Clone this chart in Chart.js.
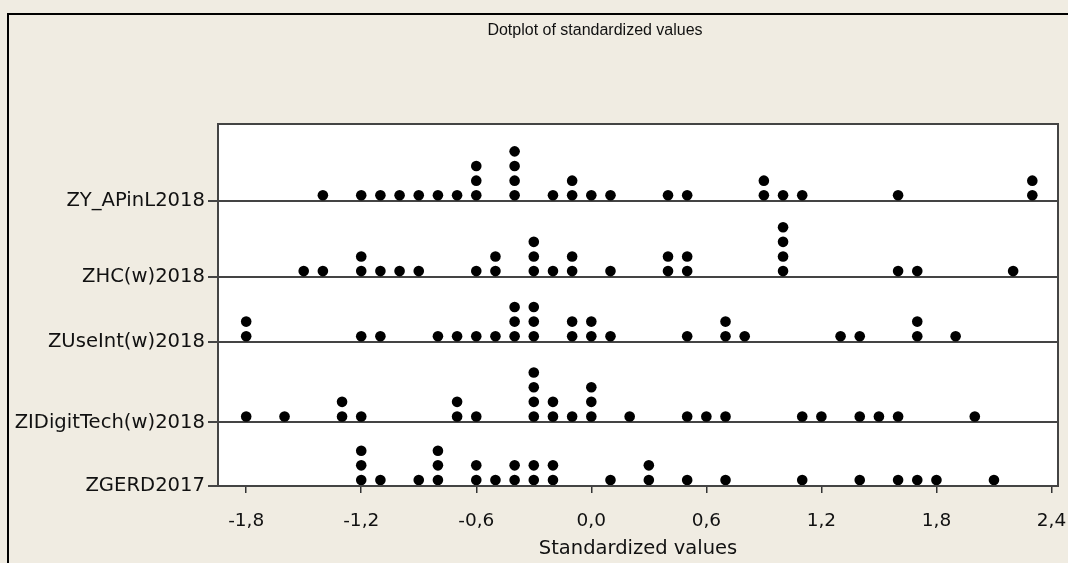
<!DOCTYPE html>
<html>
<head>
<meta charset="utf-8">
<script src="https://cdn.jsdelivr.net/npm/chart.js@4.4.1/dist/chart.umd.min.js"></script>
<style>
  html, body { margin: 0; padding: 0; background: #f0ece2; }
  #wrap { position: relative; width: 1068px; height: 563px; }
</style>
</head>
<body>
<div id="wrap"><canvas id="DotChart"></canvas></div>
<script>
// rows, top to bottom
const rowNames = ["ZY_APinL2018", "ZHC(w)2018", "ZUseInt(w)2018", "ZIDigitTech(w)2018", "ZGERD2017"];

// standardized values per row (one entry per dot)
const zyApinl2018 = [-1.4, -1.2, -1.1, -1.0, -0.9, -0.8, -0.7, -0.6, -0.6, -0.6, -0.4, -0.4, -0.4, -0.4,
    -0.2, -0.1, -0.1, 0.0, 0.1, 0.4, 0.5, 0.9, 0.9, 1.0, 1.1, 1.6, 2.3, 2.3];
const zhc2018 = [-1.5, -1.4, -1.2, -1.2, -1.1, -1.0, -0.9, -0.6, -0.5, -0.5, -0.3, -0.3, -0.3, -0.2,
    -0.1, -0.1, 0.1, 0.4, 0.4, 0.5, 0.5, 1.0, 1.0, 1.0, 1.0, 1.6, 1.7, 2.2];
const zuseInt2018 = [-1.8, -1.8, -1.2, -1.1, -0.8, -0.7, -0.6, -0.5, -0.4, -0.4, -0.4, -0.3, -0.3, -0.3,
    -0.1, -0.1, 0.0, 0.0, 0.1, 0.5, 0.7, 0.7, 0.8, 1.3, 1.4, 1.7, 1.7, 1.9];
const zidigitTech2018 = [-1.8, -1.6, -1.3, -1.3, -1.2, -0.7, -0.7, -0.6, -0.3, -0.3, -0.3, -0.3, -0.2, -0.2,
    -0.1, 0.0, 0.0, 0.0, 0.2, 0.5, 0.6, 0.7, 1.1, 1.2, 1.4, 1.5, 1.6, 2.0];
const zgerd2017 = [-1.2, -1.2, -1.2, -1.1, -0.9, -0.8, -0.8, -0.8, -0.6, -0.6, -0.5, -0.4, -0.4, -0.3,
    -0.3, -0.2, -0.2, 0.1, 0.3, 0.3, 0.5, 0.7, 1.1, 1.4, 1.6, 1.7, 1.8, 2.1];

const xTickValues = [-1.8, -1.2, -0.6, 0.0, 0.6, 1.2, 1.8, 2.4];

// layout (in dot-height units, bottom of plot = 0)
const rowBase = [19.45, 14.27, 9.82, 4.34, 0];
const dotLift = 0.41;
const yMax = 24.73;

function stackDots(values, base) {
    const counts = {};
    return values.map(v => {
        const key = v.toFixed(1);
        const k = counts[key] || 0;
        counts[key] = k + 1;
        return { x: v, y: base + dotLift + k };
    });
}

const series = [zyApinl2018, zhc2018, zuseInt2018, zidigitTech2018, zgerd2017];

const frameAndTitle = {
    id: "frameAndTitle",
    beforeDraw(chart) {
        const { ctx, chartArea: a } = chart;
        ctx.save();
        ctx.fillStyle = "#f0ece2";
        ctx.fillRect(0, 0, chart.width, chart.height);
        ctx.strokeStyle = "#000";
        ctx.lineWidth = 2;
        ctx.beginPath();
        ctx.moveTo(8, chart.height);
        ctx.lineTo(8, 14);
        ctx.lineTo(chart.width, 14);
        ctx.stroke();
        ctx.fillStyle = "#fff";
        ctx.fillRect(a.left, a.top, a.right - a.left, a.bottom - a.top);
        ctx.restore();
    },
    afterDraw(chart) {
        const { ctx, chartArea: a } = chart;
        ctx.save();
        ctx.strokeStyle = "#444";
        ctx.lineWidth = 2;
        ctx.strokeRect(a.left, a.top, a.right - a.left, a.bottom - a.top);
        ctx.fillStyle = "#111";
        ctx.font = "16px 'Liberation Sans'";
        ctx.textAlign = "center";
        ctx.textBaseline = "middle";
        ctx.fillText("Dotplot of standardized values", 595, 31);
        ctx.restore();
    }
};

const ctx = document.getElementById("DotChart").getContext("2d");

new Chart(ctx, {
    type: "scatter",
    data: {
        datasets: series.map((vals, i) => ({
            label: rowNames[i],
            data: stackDots(vals, rowBase[i]),
            backgroundColor: "#000",
            borderColor: "#000",
            borderWidth: 0,
            pointRadius: 5.3,
            pointHoverRadius: 5.3
        }))
    },
    options: {
        responsive: true,
        maintainAspectRatio: false,
        animation: false,
        events: [],
        layout: { padding: { top: 124, right: 10, left: 0, bottom: 0 } },
        plugins: {
            legend: { display: false },
            tooltip: { enabled: false }
        },
        scales: {
            x: {
                type: "linear",
                min: -1.947,
                max: 2.434,
                afterBuildTicks: scale => { scale.ticks = xTickValues.map(v => ({ value: v })); },
                afterFit: scale => {
                    scale.height = 77;
                    scale.paddingRight = 0;
                },
                ticks: {
                    color: "#111",
                    font: { family: "DejaVu Sans", size: 18.5 },
                    padding: 17,
                    maxRotation: 0,
                    callback: value => value.toFixed(1).replace(".", ",")
                },
                grid: {
                    drawOnChartArea: false,
                    drawTicks: true,
                    tickLength: 7,
                    color: "#333",
                    lineWidth: 1.5
                },
                border: { display: true, color: "#444", width: 2 },
                title: {
                    display: true,
                    text: "Standardized values",
                    color: "#111",
                    font: { family: "DejaVu Sans", size: 19.5 },
                    padding: { top: 0, bottom: 2 }
                }
            },
            y: {
                type: "linear",
                min: 0,
                max: yMax,
                afterBuildTicks: scale => { scale.ticks = rowBase.map(v => ({ value: v })); },
                afterFit: scale => { scale.width = 218; },
                ticks: {
                    color: "#111",
                    font: { family: "DejaVu Sans", size: 19.6 },
                    padding: 3,
                    callback: (value, index) => rowNames[index]
                },
                grid: {
                    color: "#444",
                    lineWidth: 2,
                    tickLength: 10
                },
                border: { display: false }
            }
        }
    },
    plugins: [frameAndTitle]
});
</script>
</body>
</html>
